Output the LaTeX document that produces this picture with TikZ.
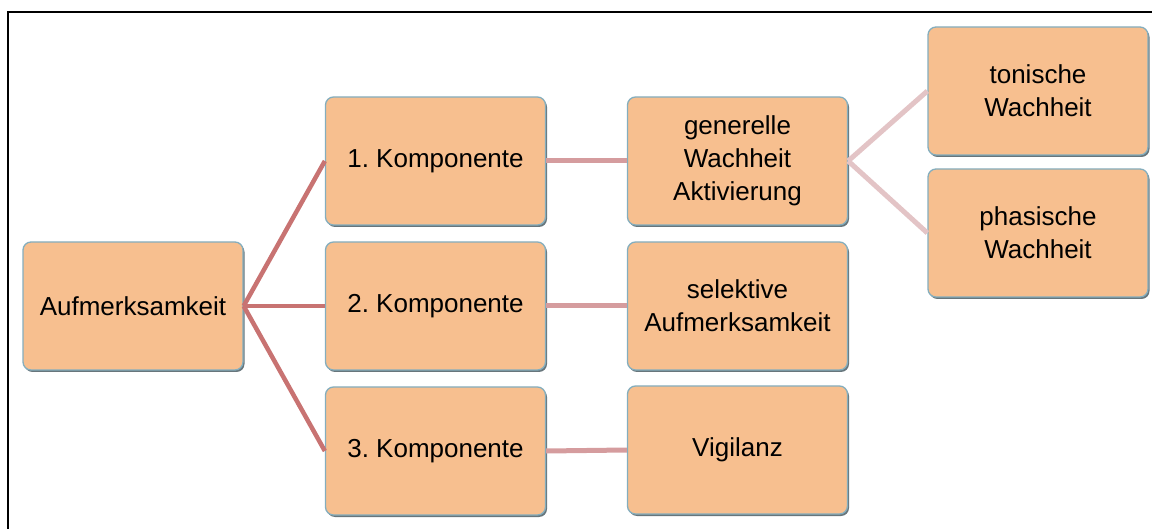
\documentclass[tikz,border=0pt]{standalone}
\usepackage{fontspec}
\setmainfont{Liberation Sans}
\usetikzlibrary{shadows}
\definecolor{boxfill}{HTML}{F7BF8F}
\definecolor{boxline}{HTML}{84AEBE}
\definecolor{boxshade}{HTML}{68767C}
\definecolor{linkA}{HTML}{C87372}
\definecolor{linkB}{HTML}{D59C9E}
\definecolor{linkC}{HTML}{E3C4C6}
\tikzset{
  box/.style={rectangle, rounded corners=8pt, fill=boxfill, draw=boxline,
    line width=1.3pt, minimum width=220pt, minimum height=128pt,
    align=center, inner sep=2pt,
    font=\fontsize{26}{33}\selectfont\frenchspacing,
    drop shadow={shadow xshift=1.5pt, shadow yshift=-2pt, fill=boxshade, opacity=1}},
  lvlA/.style={draw=linkA, line width=4.5pt},
  lvlB/.style={draw=linkB, line width=5pt},
  lvlC/.style={draw=linkC, line width=5pt},
}
\begin{document}
\frenchspacing
\begin{tikzpicture}[x=1pt,y=-1pt]
\useasboundingbox (0,0) rectangle (1152,529);
% outer frame, open to the right and bottom
\draw[line width=2pt, black] (8,12) rectangle (1170,545);

\node[box] (auf) at (133,306) {Aufmerksamkeit};
\node[box] (k1) at (435.5,161) {1. Komponente};
\node[box] (k2) at (435.5,306) {2. Komponente};
\node[box] (k3) at (435.5,451) {3. Komponente};
\node[box] (gen) at (737.5,161) {generelle\\Wachheit\\Aktivierung};
\node[box] (sel) at (737.5,306) {selektive\\Aufmerksamkeit};
\node[box] (vig) at (737.5,450) {Vigilanz};
\node[box] (ton) at (1038,91) {tonische\\Wachheit};
\node[box] (pha) at (1038,233) {phasische\\Wachheit};

\draw[lvlA] (auf.east) -- (k1.west);
\draw[lvlA] (auf.east) -- (k2.west);
\draw[lvlA] (auf.east) -- (k3.west);
\draw[lvlB] (k1.east) -- (gen.west);
\draw[lvlB] (k2.east) -- (sel.west);
\draw[lvlB] (k3.east) -- (vig.west);
\draw[lvlC] (gen.east) -- (ton.west);
\draw[lvlC] (gen.east) -- (pha.west);
\end{tikzpicture}
\end{document}
